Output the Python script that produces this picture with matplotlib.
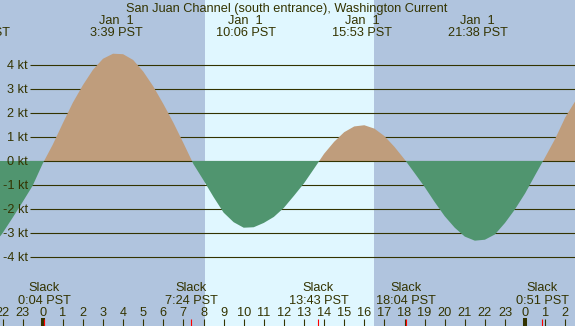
import numpy as np
import matplotlib
matplotlib.use("Agg")
import matplotlib.pyplot as plt

# hours after midnight, Jan 1 (PST); current in knots, every half hour
hours = np.arange(-2.5, 27.01, 0.5)
speed = [-3.55, -3.01, -2.37, -1.71, -1.03, -0.11,
         0.68, 1.57, 2.43, 3.16, 3.80, 4.26, 4.47, 4.45, 4.21, 3.73, 3.11, 2.38, 1.60, 0.75,
         -0.13, -0.80, -1.50, -2.15, -2.55, -2.78, -2.76, -2.58, -2.33, -1.95, -1.45, -0.93, -0.32,
         0.30, 0.80, 1.20, 1.44, 1.49, 1.35, 1.04, 0.59, 0.07,
         -0.50, -1.08, -1.71, -2.30, -2.78, -3.15, -3.32, -3.28, -3.06, -2.58, -2.01, -1.35, -0.59,
         0.16, 0.93, 1.82, 2.50, 3.10]

# max flood / max ebb events (top labels); the first one is mostly off the left edge
max_times = [-3.1, 3.65, 10.1, 15.883, 21.633]
max_dates = ["", "Jan  1", "Jan  1", "Jan  1", "Jan  1"]
max_labels = ["20:54 PST", "3:39 PST", "10:06 PST", "15:53 PST", "21:38 PST"]

# slack events (bottom labels)
slack_times = [0.067, 7.4, 13.717, 18.067, 24.85]
slack_labels = ["0:04 PST", "7:24 PST", "13:43 PST", "18:04 PST", "0:51 PST"]

sunrise, sunset = 8.075, 16.48
kt_levels = [4, 3, 2, 1, 0, -1, -2, -3, -4]
hour_ticks = list(range(-2, 27))

title = "San Juan Channel (south entrance), Washington Current"

night = "#b0c4de"
day = "#e0f7ff"
flood = "#bf9d7c"
ebb = "#50956f"
fg = "#333300"

# pixel geometry of the 575x326 picture
X0, PXH = 42.7, 20.1      # x pixel of midnight, pixels per hour
Y0, PXK = 161.0, 24.0     # y pixel of 0 kt, pixels per knot


def tx(px):
    return (px - X0) / PXH


def vy(py):
    return (Y0 - py) / PXK


plt.rcParams["font.family"] = ["Liberation Sans", "DejaVu Sans"]
fs = 9.2

fig = plt.figure(figsize=(5.75, 3.26), dpi=100)
ax = fig.add_axes([0, 0, 1, 1])
ax.set_xlim(tx(0), tx(575))
ax.set_ylim(vy(326), vy(0))
ax.axis("off")

ax.axvspan(tx(0), tx(575), color=night, zorder=0, lw=0)
ax.axvspan(sunrise, sunset, color=day, zorder=0.5, lw=0)

# grid lines
for k in kt_levels:
    if k != 0:
        ax.plot([tx(30), tx(575)], [k, k], color=fg, lw=0.8, zorder=1,
                solid_capstyle="butt")
    ax.text(tx(28), k + vy(Y0 + 4.3), f"{k} kt", ha="right", va="baseline",
            fontsize=fs, color=fg, zorder=6)

spd = np.array(speed)
ax.fill_between(hours, spd, 0, where=spd >= 0, interpolate=True,
                color=flood, lw=0, zorder=2)
ax.plot([tx(30), tx(575)], [0, 0], color=fg, lw=0.8, zorder=3)
ax.fill_between(hours, spd, 0, where=spd <= 0, interpolate=True,
                color=ebb, lw=0, zorder=4)

ax.text(tx(287), vy(11.7), title, ha="center", va="baseline",
        fontsize=fs, color=fg, zorder=6)

for t, d, lab in zip(max_times, max_dates, max_labels):
    if d:
        ax.text(t, vy(24), d, ha="center", va="baseline", fontsize=fs, color=fg, zorder=6)
    ax.text(t, vy(36), lab, ha="center", va="baseline", fontsize=fs, color=fg, zorder=6)

for t, lab in zip(slack_times, slack_labels):
    ax.text(t, vy(291), "Slack", ha="center", va="baseline", fontsize=fs, color=fg, zorder=6)
    ax.text(t, vy(304), lab, ha="center", va="baseline", fontsize=fs, color=fg, zorder=6)

# hour axis along the bottom
for h in hour_ticks:
    ax.text(h, vy(316), str(h % 24), ha="center", va="baseline",
            fontsize=fs, color=fg, zorder=6)
    if h % 24 == 0:
        ax.vlines(h, vy(326), vy(318.3), color=fg, lw=2.9, zorder=5)
    else:
        ax.vlines(h, vy(326), vy(319.3), color=fg, lw=0.8, zorder=5)
ax.vlines(slack_times, vy(326), vy(319.3), color="red", lw=0.8, zorder=5.5)

fig.savefig("out.png", dpi=100)
